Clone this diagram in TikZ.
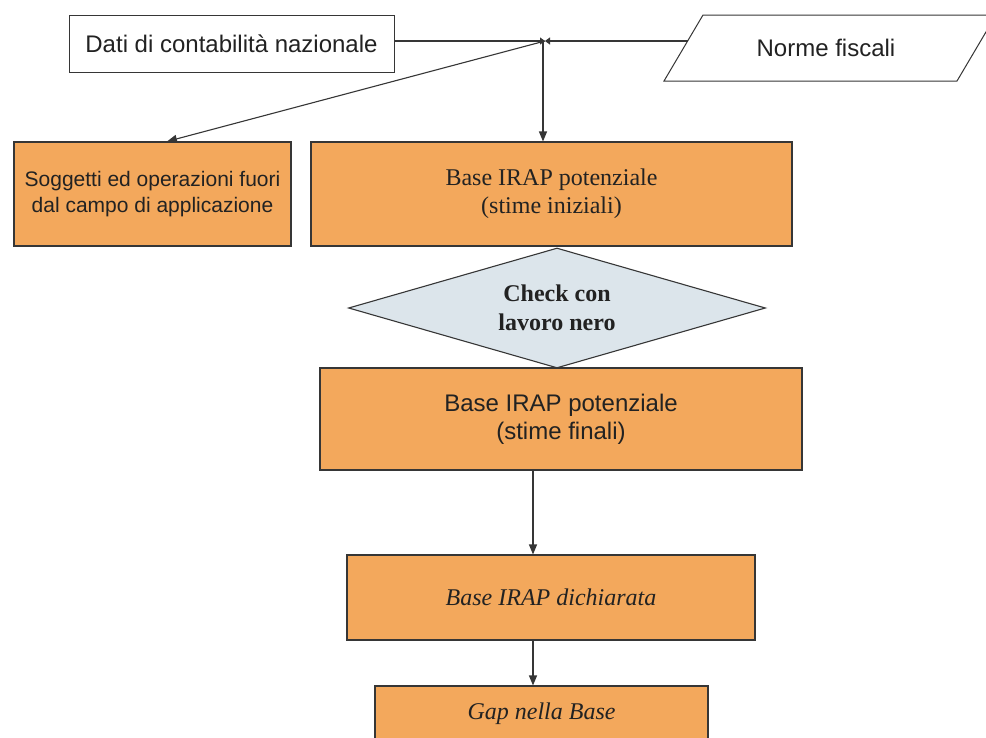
\documentclass[tikz,border=0pt]{standalone}
\usepackage{fontspec}
\setmainfont{Liberation Serif}
\newfontfamily\arialf{Liberation Sans}
\usetikzlibrary{shapes.geometric,arrows.meta}
\definecolor{boxorange}{HTML}{F3A85C}
\definecolor{diafill}{HTML}{DCE5EB}
\definecolor{linegray}{HTML}{363636}
\definecolor{txt}{HTML}{222222}
\begin{document}
\begin{tikzpicture}[x=1pt,y=-1pt,
  box/.style={draw=linegray, line width=1.1pt, fill=boxorange, inner sep=0pt, align=center, text=txt},
  wbox/.style={draw=linegray, line width=1pt, fill=white, inner sep=0pt, align=center, text=txt},
  conn/.style={draw=linegray, line width=1.1pt, -{Triangle[length=10pt,width=8pt]}},
  tip/.style={draw=linegray, line width=1.1pt, -{Triangle[length=5pt,width=7pt]}},
  sansbig/.style={font=\arialf\fontsize{24}{28}\selectfont},
  serifbig/.style={font=\fontsize{24}{28}\selectfont},
  ]
\useasboundingbox (0,0) rectangle (986,737);
\fill[white] (0,0) rectangle (986,737);

% top row
\node[wbox, sansbig, minimum width=325, minimum height=57] (dati) at (231.5,43.5) {Dati di contabilità nazionale};
\draw[linegray, line width=1pt, fill=white] (664,81) -- (703,15) -- (996,15) -- (957,81) -- cycle;
\node[sansbig, text=txt, inner sep=0pt] (norme) at (826,48) {Norme fiscali};
\coordinate (normeL) at (688,41);
\coordinate (J) at (545,41);
\coordinate (Jv) at (543,41);
\coordinate (sa) at (167,0);
\coordinate (fa) at (533,0);

% second row
\node[box, font=\arialf\fontsize{21}{26}\selectfont, minimum width=277, minimum height=104] (sogg) at (152.5,194) {Soggetti ed operazioni fuori\\dal campo di applicazione};
\node[box, serifbig, minimum width=481, minimum height=104] (ini) at (551.5,194) {Base IRAP potenziale\\(stime iniziali)};

% diamond
\node[diamond, draw=linegray, line width=1.1pt, fill=diafill, text=txt, minimum width=417, minimum height=120, shape aspect=3.47, inner sep=0pt, align=center, font=\bfseries\fontsize{24}{29}\selectfont] (chk) at (557,308) {Check con\\lavoro nero};

% final estimates
\node[box, sansbig, minimum width=482, minimum height=102] (fin) at (561,419) {Base IRAP potenziale\\(stime finali)};

% declared
\node[box, font=\itshape\fontsize{24}{28}\selectfont, minimum width=408, minimum height=85] (dich) at (551,597.5) {Base IRAP dichiarata};
\node[box, font=\itshape\fontsize{24}{28}\selectfont, minimum width=333, minimum height=56] (gap) at (541.5,714) {Gap nella Base};

% connectors
\draw[tip] (dati.east |- J) -- (J);
\draw[tip] (normeL) -- (J);
\draw[conn] (J) -- (sa |- sogg.north);
\draw[conn] (Jv) -- (Jv |- ini.north);
\draw[conn] (fa |- fin.south) -- (fa |- dich.north);
\draw[conn] (fa |- dich.south) -- (fa |- gap.north);
\end{tikzpicture}
\end{document}
